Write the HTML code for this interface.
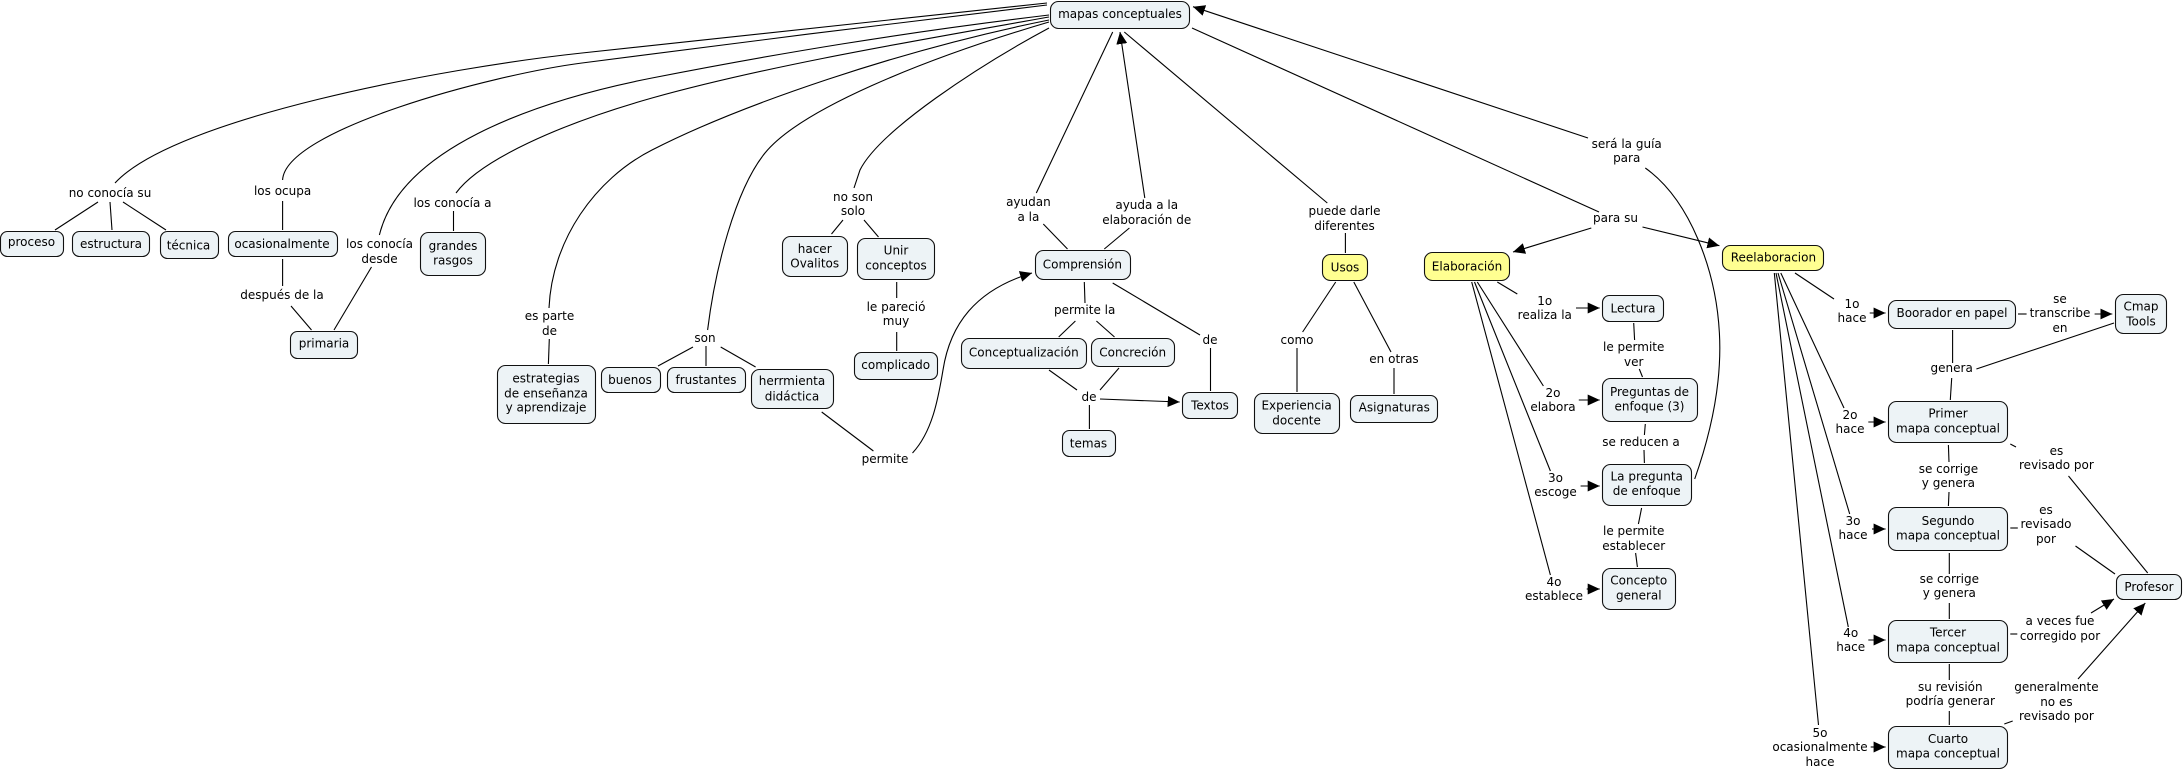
<!DOCTYPE html>
<html lang="es">
<head>
<meta charset="utf-8">
<title>mapas conceptuales</title>
<style>
html,body{margin:0;padding:0;background:#fff;width:2184px;height:770px;overflow:hidden}
svg{display:block}
text{font-family:"DejaVu Sans","Liberation Sans",sans-serif;font-size:12px;fill:#000;text-anchor:middle;dominant-baseline:central}
.n rect{fill:#edf3f6;stroke:#111;stroke-width:1.1}
.y rect{fill:#ffff91;stroke:#111;stroke-width:1.1}
.l path,.l line{fill:none;stroke:#000;stroke-width:1.1}
.a line{stroke:#000;stroke-width:1.1;marker-end:url(#h)}
</style>
</head>
<body>
<svg width="2184" height="770" viewBox="0 0 2184 770" xmlns="http://www.w3.org/2000/svg">
<defs><marker id="h" markerUnits="userSpaceOnUse" markerWidth="12" markerHeight="11" refX="12" refY="5.5" orient="auto"><path d="M0 0L12 5.5L0 11Z" fill="#000"/></marker></defs>

<g class="l">
<path d="M1047 3L582 53C442 68 175 118 115 183"/>
<path d="M1047 5C900 22 730 44 582 63C490 75 285 130 282.6 180"/>
<path d="M1049 15C900 33 780 53 652 78C530 102 400 150 379.4 235"/>
<path d="M1049 17C920 40 770 65 652 98C560 124 480 160 456 193"/>
<path d="M1049 20C900 50 740 105 652 150C595 179 552 240 549 308"/>
<path d="M1049 22C920 60 800 110 765 153C735 190 715 270 707.6 330"/>
<path d="M1049 28C980 65 880 130 860 170L854 188"/>
<path d="M912.5 453C932 432 938 400 943 370C950 325 975 290 1032 273" marker-end="url(#h)"/>
<path d="M1694.7 479C1712 430 1722 380 1719.4 333C1716 270 1690 200 1645.3 168"/>
<line x1="98" y1="202" x2="55" y2="230"/><line x1="110" y1="202" x2="112" y2="230"/><line x1="123" y1="202" x2="166" y2="230"/>
<line x1="282.6" y1="201" x2="282.6" y2="230"/><line x1="282.6" y1="259" x2="282.6" y2="286"/>
<line x1="291" y1="306" x2="311.5" y2="330"/><line x1="371.5" y1="267" x2="334" y2="330"/>
<line x1="453.5" y1="211" x2="453.5" y2="231"/><line x1="549.3" y1="339" x2="548.4" y2="364"/>
<line x1="693" y1="347" x2="658" y2="366"/><line x1="706" y1="346" x2="706" y2="366"/><line x1="720.7" y1="347" x2="755.6" y2="367"/>
<line x1="843" y1="220" x2="831.5" y2="234"/><line x1="864" y1="220" x2="878.5" y2="237"/>
<line x1="896.7" y1="282" x2="896.7" y2="298"/><line x1="896.7" y1="332" x2="896.7" y2="351"/>
<line x1="821.7" y1="412" x2="873.4" y2="451"/>
<line x1="1112.7" y1="32" x2="1036.3" y2="193"/><line x1="1043.3" y1="224" x2="1067.5" y2="249"/>
<line x1="1104.3" y1="249" x2="1129.4" y2="228"/>
<line x1="1124.3" y1="32" x2="1327.3" y2="203"/><line x1="1345.4" y1="233" x2="1345.4" y2="253"/>
<line x1="1335.7" y1="282" x2="1302.6" y2="332"/><line x1="1297" y1="348" x2="1297" y2="392"/>
<line x1="1353.8" y1="282" x2="1391" y2="352"/><line x1="1394" y1="368" x2="1394" y2="394"/>
<line x1="1084.3" y1="282" x2="1085" y2="303"/><line x1="1075.4" y1="321" x2="1058.7" y2="337"/><line x1="1096.4" y1="321" x2="1114.5" y2="337"/>
<line x1="1112.7" y1="283" x2="1200" y2="335"/><line x1="1210.5" y1="348" x2="1210.5" y2="391"/>
<line x1="1049" y1="370" x2="1077" y2="390"/><line x1="1119" y1="368" x2="1100" y2="390"/><line x1="1089.4" y1="405" x2="1089.4" y2="429"/>
<line x1="1192" y1="28" x2="1599" y2="212"/>
<line x1="1497.3" y1="282" x2="1517.3" y2="294"/>
<line x1="1633.7" y1="323" x2="1634.6" y2="340"/><line x1="1639.3" y1="369" x2="1642.5" y2="377"/>
<line x1="1477.3" y1="282" x2="1543.4" y2="386"/><line x1="1474.5" y1="282" x2="1550.4" y2="471"/><line x1="1471.7" y1="282" x2="1550.4" y2="575"/>
<line x1="1645.3" y1="424" x2="1644.4" y2="435"/><line x1="1644" y1="450" x2="1644.4" y2="463"/>
<line x1="1641.6" y1="508" x2="1638.4" y2="524"/><line x1="1635.6" y1="553" x2="1637.4" y2="567"/>
<line x1="1795" y1="273" x2="1834" y2="299"/>
<line x1="2018" y1="314" x2="2026.6" y2="314"/>
<line x1="1952.6" y1="330" x2="1952.6" y2="363"/><line x1="1976.4" y1="369" x2="2114" y2="323"/><line x1="1951.7" y1="378" x2="1950.3" y2="400"/>
<line x1="1780.8" y1="273" x2="1844" y2="408"/><line x1="1778" y1="273" x2="1849.7" y2="514"/><line x1="1776" y1="273" x2="1848.3" y2="627"/><line x1="1774.3" y1="273" x2="1818.5" y2="725"/>
<line x1="1948.4" y1="445" x2="1949" y2="462"/><line x1="1949" y1="492" x2="1948.4" y2="506"/>
<line x1="1949.3" y1="553" x2="1949.3" y2="574"/><line x1="1949.3" y1="603" x2="1949.3" y2="619"/>
<line x1="1949.3" y1="664" x2="1949.3" y2="680"/><line x1="1949.3" y1="711" x2="1949.3" y2="725"/>
<line x1="2010.3" y1="444" x2="2016" y2="447"/><line x1="2068.5" y1="476" x2="2147.7" y2="573"/>
<line x1="2010.3" y1="528" x2="2017.8" y2="528"/><line x1="2075.5" y1="546" x2="2115" y2="574"/>
<line x1="2010.3" y1="634" x2="2017.3" y2="634"/>
<line x1="2004.3" y1="724" x2="2012.7" y2="721"/>
</g>
<g class="a">
<line x1="1144.8" y1="198" x2="1120" y2="32"/>
<line x1="1100" y1="399" x2="1179.7" y2="402"/>
<line x1="1588" y1="138" x2="1193" y2="6.7"/>
<line x1="1591.3" y1="228" x2="1513" y2="252"/>
<line x1="1642.5" y1="227" x2="1719.4" y2="245.7"/>
<line x1="1576" y1="308" x2="1599.7" y2="308"/>
<line x1="1578.8" y1="400" x2="1599.7" y2="400"/>
<line x1="1580.6" y1="486" x2="1599.7" y2="486"/>
<line x1="1586.7" y1="589" x2="1599.7" y2="589"/>
<line x1="1869.7" y1="313" x2="1885.6" y2="313"/>
<line x1="2094.6" y1="314" x2="2112.3" y2="314"/>
<line x1="1868.3" y1="422" x2="1885.6" y2="422"/>
<line x1="1872" y1="529" x2="1885.6" y2="529"/>
<line x1="1868.3" y1="640" x2="1885.6" y2="640"/>
<line x1="1870.7" y1="747" x2="1885.6" y2="747"/>
<line x1="2091" y1="613" x2="2114" y2="599"/>
<line x1="2078" y1="679" x2="2145.3" y2="603"/>
</g>

<g class="n">
<rect x="1050.5" y="1.5" width="139" height="27" rx="8"/>
<rect x="0.5" y="231.5" width="63" height="25" rx="7"/>
<rect x="72.5" y="231.5" width="77" height="25" rx="7"/>
<rect x="160.5" y="231.5" width="58" height="27" rx="7"/>
<rect x="228.5" y="231.5" width="109" height="25" rx="7"/>
<rect x="290.5" y="331.5" width="67" height="27" rx="7"/>
<rect x="420.5" y="232.5" width="65" height="43" rx="8"/>
<rect x="497.5" y="365.5" width="98" height="58" rx="8"/>
<rect x="601.5" y="367.5" width="59" height="25" rx="7"/>
<rect x="667.5" y="367.5" width="78" height="25" rx="7"/>
<rect x="751.5" y="369.5" width="82" height="39" rx="8"/>
<rect x="782.5" y="236.5" width="65" height="40" rx="8"/>
<rect x="857.5" y="238.5" width="77" height="41" rx="8"/>
<rect x="854.5" y="352.5" width="83" height="27" rx="7"/>
<rect x="1035.5" y="250.5" width="95" height="29" rx="8"/>
<rect x="961.5" y="338.5" width="125" height="30" rx="8"/>
<rect x="1091.5" y="338.5" width="83" height="28" rx="8"/>
<rect x="1182.5" y="392.5" width="55" height="26" rx="7"/>
<rect x="1062.5" y="430.5" width="53" height="26" rx="7"/>
<rect x="1254.5" y="393.5" width="85" height="40" rx="8"/>
<rect x="1350.5" y="395.5" width="87" height="27" rx="7"/>
<rect x="1602.5" y="295.5" width="61" height="26" rx="7"/>
<rect x="1602.5" y="378.5" width="95" height="43" rx="8"/>
<rect x="1602.5" y="464.5" width="89" height="41" rx="8"/>
<rect x="1602.5" y="568.5" width="73" height="41" rx="8"/>
<rect x="1888.5" y="300.5" width="127" height="28" rx="8"/>
<rect x="2115.5" y="294.5" width="51" height="39" rx="8"/>
<rect x="1888.5" y="401.5" width="119" height="41" rx="8"/>
<rect x="1888.5" y="507.5" width="119" height="43" rx="8"/>
<rect x="1888.5" y="620.5" width="119" height="42" rx="8"/>
<rect x="1888.5" y="726.5" width="119" height="42" rx="8"/>
<rect x="2116.5" y="574.5" width="65" height="25" rx="7"/>
</g>
<g class="y">
<rect x="1322.5" y="254.5" width="45" height="26" rx="8"/>
<rect x="1424.5" y="252.5" width="85" height="28" rx="8"/>
<rect x="1722.5" y="245.5" width="101" height="25" rx="8"/>
</g>

<text x="1120" y="14">mapas conceptuales</text>
<text x="31.5" y="242">proceso</text>
<text x="111" y="244">estructura</text>
<text x="188.5" y="245.7">técnica</text>
<text x="282" y="244">ocasionalmente</text>
<text x="324" y="343.7">primaria</text>
<text x="453" y="246">grandes</text><text x="453" y="260.7">rasgos</text>
<text x="546" y="378.3">estrategias</text><text x="546" y="393.3">de enseñanza</text><text x="546" y="407.7">y aprendizaje</text>
<text x="630" y="380">buenos</text>
<text x="706" y="380">frustantes</text>
<text x="792" y="381">herrmienta</text><text x="792" y="396.7">didáctica</text>
<text x="814.7" y="249">hacer</text><text x="814.7" y="263.7">Ovalitos</text>
<text x="896" y="250.7">Unir</text><text x="896" y="265.3">conceptos</text>
<text x="895.7" y="365">complicado</text>
<text x="1082.4" y="264.7">Comprensión</text>
<text x="1023.8" y="352.7">Conceptualización</text>
<text x="1132.7" y="352.7">Concreción</text>
<text x="1210" y="405.7">Textos</text>
<text x="1088.5" y="443.3">temas</text>
<text x="1296.6" y="405.7">Experiencia</text><text x="1296.6" y="420.3">docente</text>
<text x="1394.3" y="407.7">Asignaturas</text>
<text x="1345" y="267.3">Usos</text>
<text x="1467" y="266.5">Elaboración</text>
<text x="1773.4" y="257.7">Reelaboracion</text>
<text x="1633" y="308.3">Lectura</text>
<text x="1649.5" y="392">Preguntas de</text><text x="1649.5" y="406.7">enfoque (3)</text>
<text x="1646.7" y="476.7">La pregunta</text><text x="1646.7" y="491">de enfoque</text>
<text x="1638.8" y="580.7">Concepto</text><text x="1638.8" y="595.3">general</text>
<text x="1952" y="313">Boorador en papel</text>
<text x="2141" y="306.7">Cmap</text><text x="2141" y="321.3">Tools</text>
<text x="1948" y="413.7">Primer</text><text x="1948" y="428.3">mapa conceptual</text>
<text x="1948" y="521">Segundo</text><text x="1948" y="535.7">mapa conceptual</text>
<text x="1948" y="632.7">Tercer</text><text x="1948" y="647.3">mapa conceptual</text>
<text x="1948" y="739">Cuarto</text><text x="1948" y="753.7">mapa conceptual</text>
<text x="2149" y="587">Profesor</text>

<text x="110" y="193">no conocía su</text>
<text x="282.6" y="191">los ocupa</text>
<text x="282" y="295">después de la</text>
<text x="379.5" y="244">los conocía</text><text x="379.5" y="259">desde</text>
<text x="452.5" y="203">los conocía a</text>
<text x="549.5" y="316">es parte</text><text x="549.5" y="331">de</text>
<text x="705" y="338">son</text>
<text x="853" y="197">no son</text><text x="853" y="211">solo</text>
<text x="896" y="307">le pareció</text><text x="896" y="321">muy</text>
<text x="885" y="459">permite</text>
<text x="1028.4" y="202">ayudan</text><text x="1028.4" y="217">a la</text>
<text x="1146.7" y="205">ayuda a la</text><text x="1146.7" y="220">elaboración de</text>
<text x="1344.5" y="211">puede darle</text><text x="1344.5" y="226">diferentes</text>
<text x="1297" y="340">como</text>
<text x="1394" y="359">en otras</text>
<text x="1084.7" y="310">permite la</text>
<text x="1210" y="340">de</text>
<text x="1089" y="397">de</text>
<text x="1626.7" y="144">será la guía</text><text x="1626.7" y="158">para</text>
<text x="1615.5" y="218">para su</text>
<text x="1544.8" y="301">1o</text><text x="1544.8" y="315">realiza la</text>
<text x="1633.7" y="347">le permite</text><text x="1633.7" y="362">ver</text>
<text x="1553" y="393">2o</text><text x="1553" y="407">elabora</text>
<text x="1641" y="442">se reducen a</text>
<text x="1555.5" y="478">3o</text><text x="1555.5" y="492">escoge</text>
<text x="1633.7" y="531">le permite</text><text x="1633.7" y="546">establecer</text>
<text x="1554" y="582">4o</text><text x="1554" y="596">establece</text>
<text x="1852" y="304">1o</text><text x="1852" y="318">hace</text>
<text x="2060" y="299">se</text><text x="2060" y="313">transcribe</text><text x="2060" y="328">en</text>
<text x="1951.7" y="368">genera</text>
<text x="1850" y="415">2o</text><text x="1850" y="429">hace</text>
<text x="1853" y="521">3o</text><text x="1853" y="535">hace</text>
<text x="1850.7" y="633">4o</text><text x="1850.7" y="647">hace</text>
<text x="1820" y="733">5o</text><text x="1820" y="747">ocasionalmente</text><text x="1820" y="762">hace</text>
<text x="1948.4" y="469">se corrige</text><text x="1948.4" y="483">y genera</text>
<text x="1949.3" y="579">se corrige</text><text x="1949.3" y="593">y genera</text>
<text x="1950.3" y="687">su revisión</text><text x="1950.3" y="701">podría generar</text>
<text x="2056.4" y="451">es</text><text x="2056.4" y="465">revisado por</text>
<text x="2046" y="510">es</text><text x="2046" y="524">revisado</text><text x="2046" y="539">por</text>
<text x="2060" y="621">a veces fue</text><text x="2060" y="636">corregido por</text>
<text x="2056.4" y="687">generalmente</text><text x="2056.4" y="702">no es</text><text x="2056.4" y="716">revisado por</text>
</svg>
</body>
</html>
